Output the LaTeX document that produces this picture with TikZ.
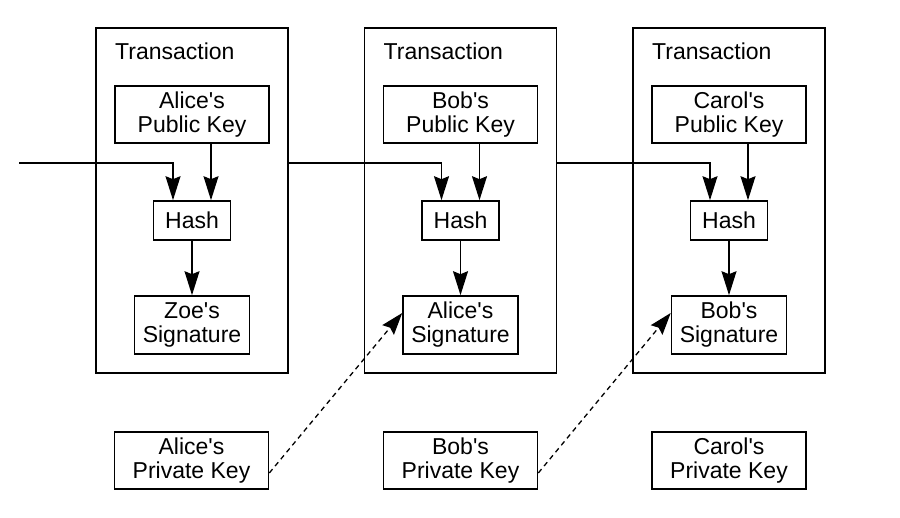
\documentclass[tikz,border=0pt]{standalone}
\usepackage{fontspec}
\setmainfont{Liberation Sans}[Ligatures=TeXOff]
\usetikzlibrary{arrows.meta,positioning}
\begin{document}
\begin{tikzpicture}[x=1pt,y=-1pt,
  every node/.style={font=\fontsize{23}{24}\selectfont},
  txbox/.style={draw,line width=1.6pt,minimum width=192pt,minimum height=345pt,inner sep=0pt},
  keybox/.style={draw,line width=1.6pt,minimum width=154pt,minimum height=57pt,inner sep=0pt,align=center},
  hashbox/.style={draw,line width=1.6pt,minimum width=77pt,minimum height=39pt,inner sep=0pt},
  sigbox/.style={draw,line width=1.6pt,minimum width=115pt,minimum height=58pt,inner sep=0pt,align=center},
  link/.style={line width=1.5pt,-{Stealth[length=24pt,width=15pt,inset=3pt]}},
  sign/.style={line width=1.3pt,dash pattern=on 5pt off 4pt,-{Stealth[length=22pt,width=15pt,inset=3pt]}}
]
\fill[white] (0,0) rectangle (900,517);
\useasboundingbox (0,0) rectangle (900,517);

% transaction boxes
\node[txbox] (tx1) at (192,200.5) {};
\node[txbox] (tx2) at (460.5,200.5) {};
\node[txbox] (tx3) at (729,200.5) {};
\node[anchor=base west,inner sep=0pt] (t1) at (115,59) {Transaction};
\node[anchor=base west,inner sep=0pt] (t2) at (383.5,59) {Transaction};
\node[anchor=base west,inner sep=0pt] (t3) at (652,59) {Transaction};

% public keys
\node[keybox] (pub1) at (192,114.5) {Alice's\\Public Key};
\node[keybox] (pub2) at (460.5,114.5) {Bob's\\Public Key};
\node[keybox] (pub3) at (729,114.5) {Carol's\\Public Key};

% hashes
\node[hashbox] (h1) at (192,220.5) {Hash};
\node[hashbox] (h2) at (460.5,220.5) {Hash};
\node[hashbox] (h3) at (729,220.5) {Hash};

% signatures
\node[sigbox] (s1) at (192,325) {Zoe's\\Signature};
\node[sigbox] (s2) at (460.5,325) {Alice's\\Signature};
\node[sigbox] (s3) at (729,325) {Bob's\\Signature};

% private keys
\node[keybox] (pk1) at (191.5,460.5) {Alice's\\Private Key};
\node[keybox] (pk2) at (460.5,460.5) {Bob's\\Private Key};
\node[keybox] (pk3) at (729,460.5) {Carol's\\Private Key};

\coordinate (in) at (19,163);

% incoming chain links
\draw[link] (in) -| ([xshift=-19pt]h1.north);
\draw[link] (tx1.east |- 0,163) -| ([xshift=-19pt]h2.north);
\draw[link] (tx2.east |- 0,163) -| ([xshift=-19pt]h3.north);

% public key to hash
\draw[link] ([xshift=19pt]pub1.south) -- ([xshift=19pt]h1.north);
\draw[link] ([xshift=19pt]pub2.south) -- ([xshift=19pt]h2.north);
\draw[link] ([xshift=19pt]pub3.south) -- ([xshift=19pt]h3.north);

% hash to signature
\draw[link] (h1) -- (s1);
\draw[link] (h2) -- (s2);
\draw[link] (h3) -- (s3);

% signing
\draw[sign] ([yshift=-12.5pt]pk1.east) -- ([yshift=12pt]s2.west);
\draw[sign] ([yshift=-12.5pt]pk2.east) -- ([yshift=12pt]s3.west);
\end{tikzpicture}
\end{document}
